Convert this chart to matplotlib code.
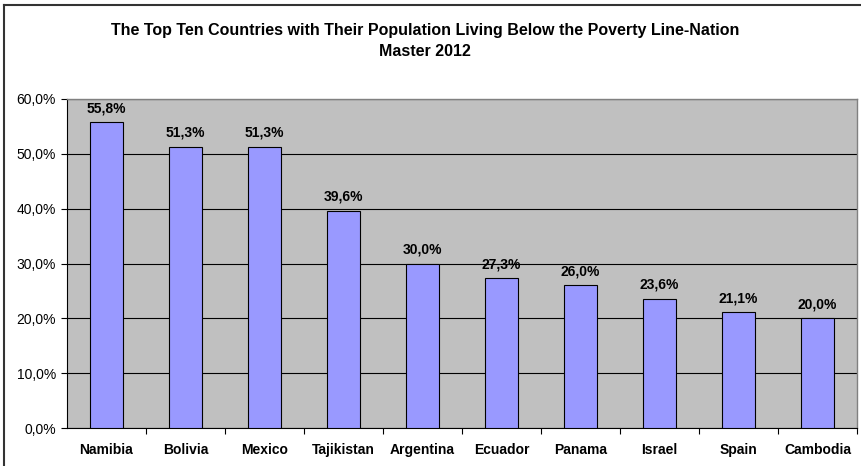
import matplotlib
matplotlib.use('Agg')
import matplotlib.pyplot as plt
from matplotlib.lines import Line2D

# Dados
paises = ['Namibia', 'Bolivia', 'Mexico', 'Tajikistan', 'Argentina',
          'Ecuador', 'Panama', 'Israel', 'Spain', 'Cambodia']
valores = [55.8, 51.3, 51.3, 39.6, 30.0, 27.3, 26.0, 23.6, 21.1, 20.0]
yticks = [0, 10, 20, 30, 40, 50, 60]

plt.rcParams['font.family'] = ['Liberation Sans', 'DejaVu Sans']

W, H = 862, 466
fig = plt.figure(figsize=(W / 100, H / 100), dpi=100)
fig.patch.set_facecolor('white')

ax = fig.add_axes([67 / W, 1 - 428 / H, (857 - 67) / W, (428 - 99) / H])
ax.set_facecolor('#C0C0C0')

x = list(range(len(paises)))
ax.set_axisbelow(True)
ax.grid(axis='y', color='black', linewidth=0.8)
ax.bar(x, valores, width=0.42, color='#9999FF', edgecolor='black', linewidth=0.8, zorder=3)

for xi, v in zip(x, valores):
    ax.annotate(f'{v:.1f}%'.replace('.', ','), xy=(xi, v), xytext=(0, 5),
                textcoords='offset points', ha='center', va='bottom',
                fontsize=10, fontweight='bold', zorder=4)

ax.set_xlim(-0.5, len(paises) - 0.5)
ax.set_ylim(0, 60)
ax.set_yticks(yticks)
ax.set_yticklabels([f'{t:.1f}%'.replace('.', ',') for t in yticks], fontsize=10)

# rótulos no centro, ticks entre categorias
ax.set_xticks(x)
ax.set_xticklabels(paises, fontsize=10, fontweight='bold')
ax.tick_params(axis='x', length=0, pad=11)
ax.set_xticks([i + 0.5 for i in range(len(paises))], minor=True)
ax.tick_params(axis='x', which='minor', length=4, width=0.8, direction='out')
ax.tick_params(axis='y', length=4, width=0.8, direction='out', pad=4)

for s in ['left', 'bottom']:
    ax.spines[s].set_color('black')
    ax.spines[s].set_linewidth(0.8)
for s in ['top', 'right']:
    ax.spines[s].set_color('#808080')
    ax.spines[s].set_linewidth(1.0)

fig.text(425 / W, 1 - 30 / H,
         'The Top Ten Countries with Their Population Living Below the Poverty Line-Nation',
         ha='center', va='center', fontsize=11.5, fontweight='bold')
fig.text(425 / W, 1 - 52 / H, 'Master 2012',
         ha='center', va='center', fontsize=11.5, fontweight='bold')

# borda da área do gráfico (recortada à direita e em baixo)
fig.add_artist(Line2D([4 / W, 1], [1 - 5 / H, 1 - 5 / H], transform=fig.transFigure,
                      color='#333333', linewidth=1.5))
fig.add_artist(Line2D([4 / W, 4 / W], [0, 1 - 5 / H], transform=fig.transFigure,
                      color='#333333', linewidth=1.5))

plt.savefig('out.png', dpi=100)
plt.close()
